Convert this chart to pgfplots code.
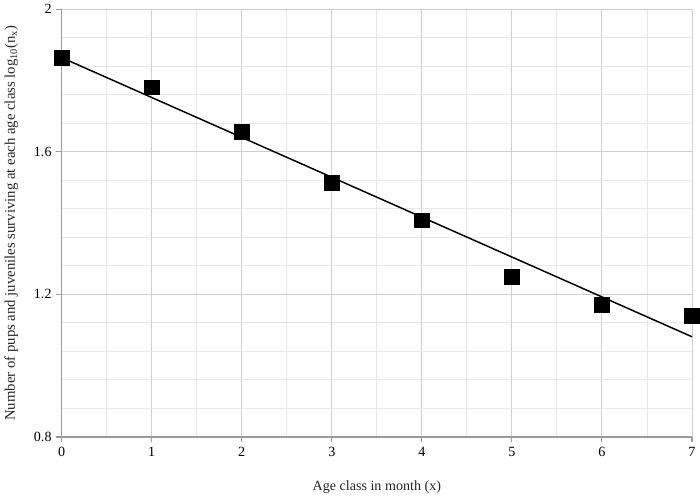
\documentclass[border=0pt]{standalone}
\usepackage{fontspec}
\setmainfont{Liberation Serif}
\usepackage{pgfplots}
\pgfplotsset{compat=1.18}
\definecolor{majgrid}{HTML}{CFCFCF}
\definecolor{mingrid}{HTML}{E8E8E8}
\definecolor{axisgray}{HTML}{9A9A9A}

\begin{document}
\begin{tikzpicture}
\begin{axis}[
    scale only axis,
    width=470pt, height=319pt,
    xmin=0, xmax=7, ymin=0.8, ymax=2,
    xtick={0,1,...,7},
    ytick={0.8,1.2,1.6,2},
    minor x tick num=1,
    minor y tick num=4,
    grid=both,
    major grid style={majgrid, line width=0.7pt},
    minor grid style={mingrid, line width=0.7pt},
    axis lines=left,
    axis line style={-, axisgray, line width=1pt},
    tick style={axisgray, line width=0.8pt},
    major tick length=4pt,
    minor tick length=0pt,
    tick align=outside,
    /pgf/number format/assume math mode=true,
    tick label style={font=\fontsize{10.5}{12}\selectfont},
    xlabel style={font=\fontsize{10.5}{12}\selectfont, text=black!85, yshift=-11pt},
    ylabel style={font=\fontsize{11}{13}\selectfont, text=black!85, yshift=5pt},
    xlabel={Age class in month (x)},
    ylabel={Number of pups and juveniles surviving at each age class log\textsubscript{10}(n\textsubscript{x})},
    clip=false,
]
\addplot[only marks, mark=square*, mark size=5.5pt, black]
    coordinates {(0,1.864)(1,1.781)(2,1.656)(3,1.514)(4,1.408)(5,1.250)(6,1.170)(7,1.139)};
\addplot[black, line width=1.1pt] coordinates {(0,1.864)(7,1.081)};
\end{axis}
\end{tikzpicture}
\end{document}
